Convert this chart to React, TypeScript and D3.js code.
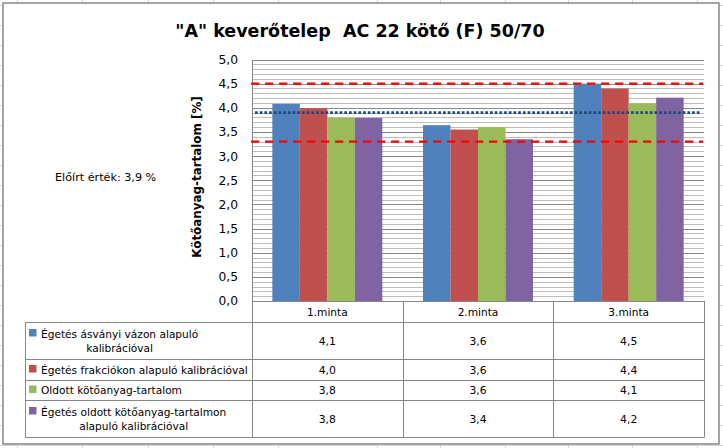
import { useEffect, useRef } from "react";
import * as d3 from "d3";

// ---- data ----
const categories = ["1.minta", "2.minta", "3.minta"];
const seriesKeys = ["s1", "s2", "s3", "s4"];
const seriesColors = ["#4f81bd", "#c0504d", "#9bbb59", "#8064a2"];
const seriesLabels = [
  ["Égetés ásványi vázon alapuló", "kalibrációval"],
  ["Égetés frakciókon alapuló kalibrációval"],
  ["Oldott kötőanyag-tartalom"],
  ["Égetés oldott kötőanyag-tartalmon", "alapuló kalibrációval"],
];
// bar heights
const s1 = [4.08, 3.64, 4.5];
const s2 = [3.99, 3.55, 4.4];
const s3 = [3.79, 3.6, 4.09];
const s4 = [3.79, 3.35, 4.21];
// values printed in the data table
const t1 = ["4,1", "3,6", "4,5"];
const t2 = ["4,0", "3,6", "4,4"];
const t3 = ["3,8", "3,6", "4,1"];
const t4 = ["3,8", "3,4", "4,2"];
const yTicks = [0, 0.5, 1, 1.5, 2, 2.5, 3, 3.5, 4, 4.5, 5];
const limitLines = [4.5, 3.3]; // red dashed
const targetValue = 3.9; // blue dotted

const title = '"A" keverőtelep  AC 22 kötő (F) 50/70';
const yTitle = "Kötőanyag-tartalom [%]";
const sideNote = "Előírt érték: 3,9 %";

const FONT = "'DejaVu Sans', sans-serif";

export default function App() {
  const svgRef = useRef<SVGSVGElement>(null);

  useEffect(() => {
    const W = 723, H = 448;
    const svg = d3.select(svgRef.current);
    svg.selectAll("*").remove();
    svg.attr("width", W).attr("height", H);

    // spreadsheet grid behind the chart
    const sheet = svg.append("g");
    const colX = [17, 82, 148, 213, 278, 377, 440, 505, 568, 632, 697];
    colX.forEach(x => sheet.append("line").attr("x1", x + 0.5).attr("x2", x + 0.5).attr("y1", 0).attr("y2", H).attr("stroke", "#d4d8e0"));
    d3.range(5, H, 20).forEach(y => sheet.append("line").attr("x1", 0).attr("x2", W).attr("y1", y + 0.5).attr("y2", y + 0.5).attr("stroke", "#d4d8e0"));

    // chart area
    svg.append("rect").attr("x", 3).attr("y", 3).attr("width", 716).attr("height", 441)
      .attr("fill", "white").attr("stroke", "#868686").attr("stroke-width", 1.5);

    const left = 252, right = 704, top = 59.5, bottom = 301;
    const y = d3.scaleLinear().domain([0, 5]).range([bottom, top]);
    const x0 = d3.scaleBand().domain(categories).range([left, right]).paddingInner(0).paddingOuter(0);
    const x1 = d3.scaleBand().domain(seriesKeys).range([0, x0.bandwidth()]).paddingInner(0).paddingOuter(0.74);
    const crisp = (v: number) => Math.round(v) + 0.5;

    // minor + major gridlines
    const g = svg.append("g");
    d3.range(0, 51).forEach(i => {
      const v = i / 10;
      const major = i % 5 === 0;
      g.append("line")
        .attr("x1", left).attr("x2", right)
        .attr("y1", crisp(y(v))).attr("y2", crisp(y(v)))
        .attr("stroke", major ? "#868686" : "#bdbdbd").attr("stroke-width", 1);
    });
    g.append("line").attr("x1", left + 0.5).attr("x2", left + 0.5).attr("y1", crisp(y(5))).attr("y2", bottom)
      .attr("stroke", "#868686");

    // y tick labels
    yTicks.forEach(v => {
      svg.append("text").attr("x", 238).attr("y", y(v) + 4.4)
        .attr("text-anchor", "end").attr("font-family", FONT).attr("font-size", 12.3).attr("fill", "#000")
        .text(d3.format(".1f")(v).replace(".", ","));
    });

    // bars
    const allSeries = [s1, s2, s3, s4];
    allSeries.forEach((vals, si) => {
      vals.forEach((v, ci) => {
        const bx = (x0(categories[ci]) ?? 0) + (x1(seriesKeys[si]) ?? 0);
        svg.append("rect")
          .attr("x", bx).attr("y", y(v))
          .attr("width", x1.bandwidth()).attr("height", y(0) - y(v))
          .attr("fill", seriesColors[si]);
      });
    });

    // reference lines
    limitLines.forEach(v => {
      svg.append("line").attr("x1", 251).attr("x2", 703).attr("y1", y(v)).attr("y2", y(v))
        .attr("stroke", "#ff0000").attr("stroke-width", 2.4).attr("stroke-dasharray", "8.3,5.7");
    });
    svg.append("line").attr("x1", 255).attr("x2", 700).attr("y1", y(targetValue)).attr("y2", y(targetValue))
      .attr("stroke", "#1f497d").attr("stroke-width", 2.7).attr("stroke-dasharray", "2.7,2");

    // data table
    const rowY = [322, 359, 380, 400, 437];
    const tLeft = 25;
    const lineC = "#868686";
    const hl = (yy: number, x1p: number) => svg.append("line").attr("x1", x1p).attr("x2", right + 0.5)
      .attr("y1", yy + 0.5).attr("y2", yy + 0.5).attr("stroke", lineC);
    hl(bottom, left);
    rowY.forEach(yy => hl(yy, tLeft));
    [left, x0("2.minta") ?? 0, x0("3.minta") ?? 0, right].forEach(xx => {
      svg.append("line").attr("x1", Math.round(xx) + 0.5).attr("x2", Math.round(xx) + 0.5)
        .attr("y1", bottom).attr("y2", rowY[4] + 0.5).attr("stroke", lineC);
    });
    svg.append("line").attr("x1", tLeft + 0.5).attr("x2", tLeft + 0.5).attr("y1", rowY[0]).attr("y2", rowY[4] + 0.5).attr("stroke", lineC);

    const txt = (x: number, yy: number, s: string, anchor = "middle", size = 10.6) =>
      svg.append("text").attr("x", x).attr("y", yy).attr("text-anchor", anchor)
        .attr("font-family", FONT).attr("font-size", size).attr("fill", "#000").text(s);

    categories.forEach(c => txt((x0(c) ?? 0) + x0.bandwidth() / 2, (bottom + rowY[0]) / 2 + 4, c));

    const tables = [t1, t2, t3, t4];
    seriesLabels.forEach((lines, si) => {
      const cy = (rowY[si] + rowY[si + 1]) / 2;
      const firstBase = lines.length > 1 ? cy - 3 : cy + 4;
      svg.append("rect").attr("x", 29).attr("y", firstBase - 8.5).attr("width", 7.5).attr("height", 7.5)
        .attr("fill", seriesColors[si]);
      const nodes = lines.map((l, li) => txt(41, firstBase + li * 14, l, "start"));
      if (lines.length > 1) {
        const widths = nodes.map(n => (n.node() as SVGTextElement).getComputedTextLength());
        const mid = 41 + d3.max(widths)! / 2;
        nodes.forEach(n => n.attr("x", mid).attr("text-anchor", "middle"));
      }
      tables[si].forEach((s, ci) => txt((x0(categories[ci]) ?? 0) + x0.bandwidth() / 2, cy + 4, s, "middle", 10.8));
    });

    // titles
    svg.append("text").attr("x", 360).attr("y", 37).attr("text-anchor", "middle")
      .style("white-space", "pre")
      .attr("font-family", FONT).attr("font-weight", "bold").attr("font-size", 17.5).text(title);
    svg.append("text").attr("transform", "translate(201,177) rotate(-90)").attr("text-anchor", "middle")
      .attr("font-family", FONT).attr("font-weight", "bold").attr("font-size", 11.9).text(yTitle);
    txt(55, 180.5, sideNote, "start", 11.2);
  }, []);

  return (
    <div style={{ position: "absolute", left: 0, top: 0 }}>
      <svg ref={svgRef} style={{ display: "block" }} />
    </div>
  );
}
